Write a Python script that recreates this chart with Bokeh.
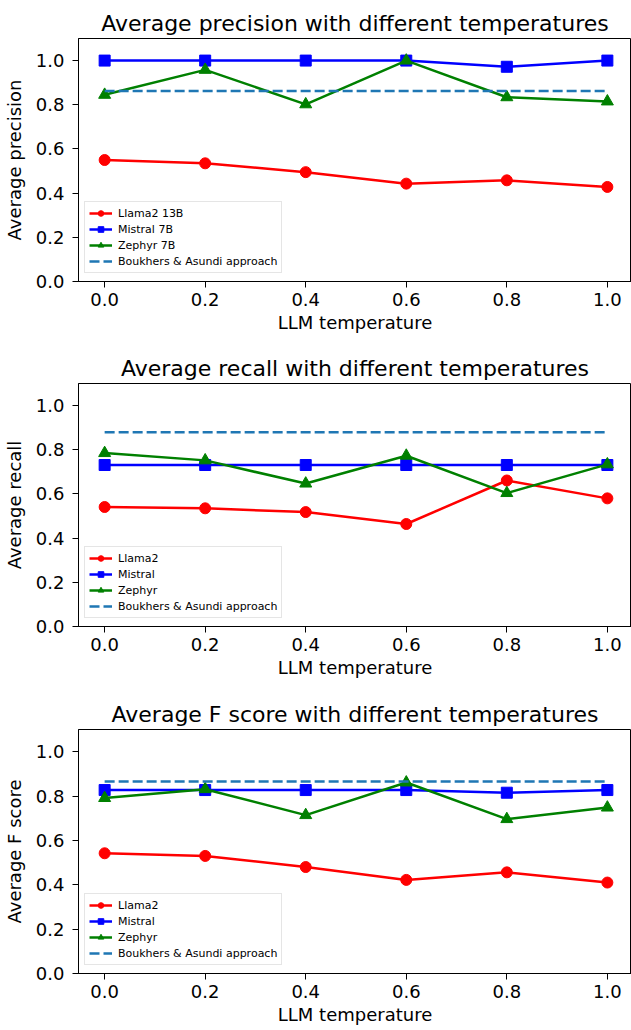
from bokeh.plotting import figure
from bokeh.layouts import column
from bokeh.models import FixedTicker, PrintfTickFormatter, Range1d
from bokeh.embed import file_html
from bokeh.resources import INLINE

temperatures = [0.0, 0.2, 0.4, 0.6, 0.8, 1.0]
tick_values = [0.0, 0.2, 0.4, 0.6, 0.8, 1.0]

precision_llama = [0.55, 0.535, 0.495, 0.443, 0.458, 0.428]
precision_mistral = [1.0, 1.0, 1.0, 1.0, 0.972, 1.0]
precision_zephyr = [0.845, 0.958, 0.802, 1.0, 0.834, 0.815]
precision_baseline = 0.862

recall_llama = [0.541, 0.535, 0.518, 0.464, 0.661, 0.580]
recall_mistral = [0.731, 0.731, 0.731, 0.731, 0.731, 0.731]
recall_zephyr = [0.785, 0.752, 0.647, 0.773, 0.604, 0.734]
recall_baseline = 0.879

f_llama = [0.542, 0.530, 0.480, 0.422, 0.456, 0.410]
f_mistral = [0.827, 0.827, 0.827, 0.827, 0.815, 0.827]
f_zephyr = [0.791, 0.831, 0.714, 0.861, 0.696, 0.748]
f_baseline = 0.866

panels = [
    dict(title="Average precision with different temperatures", ylabel="Average precision",
         llama=precision_llama, mistral=precision_mistral, zephyr=precision_zephyr,
         base=precision_baseline, names=["Llama2 13B", "Mistral 7B", "Zephyr 7B"],
         height=345, top=38, bottom=64),
    dict(title="Average recall with different temperatures", ylabel="Average recall",
         llama=recall_llama, mistral=recall_mistral, zephyr=recall_zephyr,
         base=recall_baseline, names=["Llama2", "Mistral", "Zephyr"],
         height=345, top=38, bottom=64),
    dict(title="Average F score with different temperatures", ylabel="Average F score",
         llama=f_llama, mistral=f_mistral, zephyr=f_zephyr,
         base=f_baseline, names=["Llama2", "Mistral", "Zephyr"],
         height=340, top=39, bottom=57),
]

FONT = "DejaVu Sans"
W = 631
figs = []
for d in panels:
    p = figure(width=W, height=d["height"], output_backend="svg", toolbar_location=None,
               x_range=Range1d(-0.052, 1.048), y_range=Range1d(0, 1.1),
               min_border_left=78, min_border_right=0,
               min_border_top=d["top"], min_border_bottom=d["bottom"])
    p.title.text = d["title"]
    p.title.align = "center"
    p.title.text_font = FONT
    p.title.text_font_size = "22px"
    p.title.text_font_style = "normal"
    p.title.text_color = "black"
    p.title.standoff = 5
    p.xgrid.visible = False
    p.ygrid.visible = False
    p.outline_line_color = "black"
    p.outline_line_width = 1
    p.outline_line_alpha = 1
    p.background_fill_color = "white"
    p.border_fill_color = "white"

    for ax, lab in ((p.xaxis[0], "LLM temperature"), (p.yaxis[0], d["ylabel"])):
        ax.axis_label = lab
        ax.axis_label_text_font = FONT
        ax.axis_label_text_font_size = "18px"
        ax.axis_label_text_font_style = "normal"
        ax.axis_label_text_color = "black"
        ax.major_label_text_font = FONT
        ax.major_label_text_font_size = "18px"
        ax.major_label_text_color = "black"
        ax.axis_line_color = "black"
        ax.major_tick_line_color = "black"
        ax.major_tick_out = 6
        ax.major_tick_in = 0
        ax.minor_tick_line_color = None
        ax.formatter = PrintfTickFormatter(format="%.1f")
        ax.ticker = FixedTicker(ticks=tick_values)
    p.xaxis[0].major_label_standoff = 5
    p.xaxis[0].axis_label_standoff = 3
    p.yaxis[0].major_label_standoff = 8
    p.yaxis[0].axis_label_standoff = 8

    n1, n2, n3 = d["names"]
    p.line(temperatures, d["llama"], color="red", line_width=2.5, legend_label=n1)
    p.scatter(temperatures, d["llama"], marker="circle", size=11, color="red", legend_label=n1)
    p.line(temperatures, d["mistral"], color="blue", line_width=2.5, legend_label=n2)
    p.scatter(temperatures, d["mistral"], marker="square", size=11, color="blue", legend_label=n2)
    p.line(temperatures, d["zephyr"], color="green", line_width=2.5, legend_label=n3)
    p.scatter(temperatures, d["zephyr"], marker="triangle", size=12, color="green", legend_label=n3)
    p.line(temperatures, [d["base"]] * len(temperatures), color="#1f77b4", line_width=2.5,
           line_dash="10 4", legend_label="Boukhers & Asundi approach")

    lg = p.legend[0]
    lg.location = (6, 8)
    lg.margin = 0
    lg.padding = 4
    lg.spacing = 2
    lg.label_height = 14
    lg.glyph_height = 14
    lg.glyph_width = 23
    lg.label_standoff = 6
    lg.label_text_font = FONT
    lg.label_text_font_size = "11px"
    lg.label_text_color = "black"
    lg.border_line_color = "#cccccc"
    lg.border_line_width = 1
    lg.background_fill_alpha = 0.8
    figs.append(p)

layout = column(*figs, spacing=0)
open("out.html", "w").write(file_html(layout, INLINE))
